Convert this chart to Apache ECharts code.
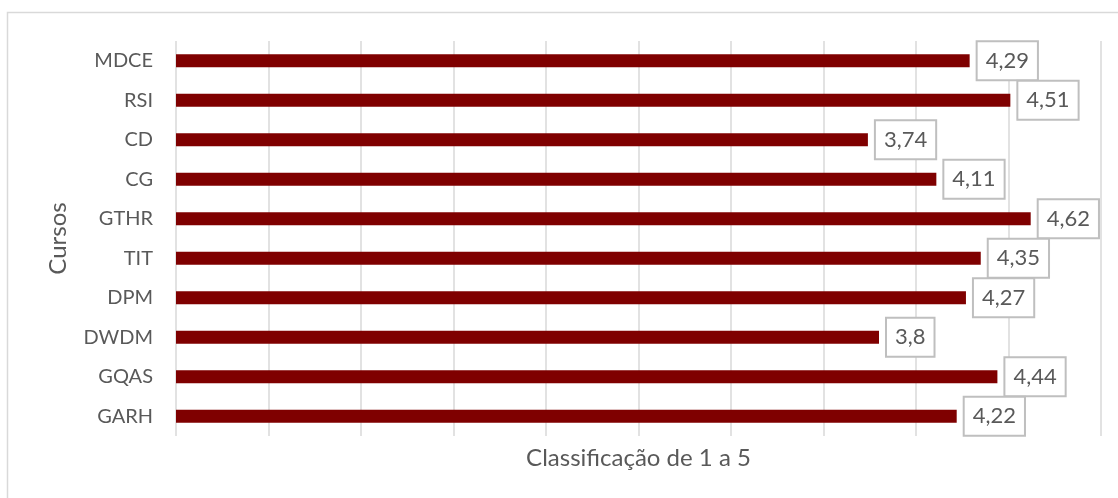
<!DOCTYPE html>
<html>
<head>
<meta charset="utf-8">
<script src="https://cdn.jsdelivr.net/npm/echarts@6/dist/echarts.min.js"></script>
<style>
  html, body { margin: 0; padding: 0; background: #fff; }
  #chart { width: 1118px; height: 498px; }
</style>
</head>
<body>
<div id="chart"></div>
<script>
// Course names, top to bottom
const cursos = ['MDCE', 'RSI', 'CD', 'CG', 'GTHR', 'TIT', 'DPM', 'DWDM', 'GQAS', 'GARH'];
// Average rating (scale 1 to 5)
const classificacao = [4.29, 4.51, 3.74, 4.11, 4.62, 4.35, 4.27, 3.8, 4.44, 4.22];

const FONT = 'Lato, "Open Sans", sans-serif';
const TEXT = '#595959';

const chart = echarts.init(document.getElementById('chart'));
chart.setOption({
  animation: false,
  backgroundColor: '#ffffff',
  graphic: [{
    type: 'rect',
    shape: { x: 7.5, y: 12.5, width: 1200, height: 600 },
    style: { fill: 'none', stroke: '#d9d9d9', lineWidth: 1.5 },
    silent: true
  }],
  grid: { left: 176, right: 17, top: 41, bottom: 62 },
  xAxis: {
    type: 'value',
    min: 0, max: 5, interval: 0.5,
    axisLabel: { show: false },
    axisLine: { show: false },
    axisTick: { show: false },
    splitLine: { show: true, lineStyle: { color: '#d9d9d9', width: 1.5 } },
    name: 'Classificação de 1 a 5',
    nameLocation: 'middle',
    nameGap: 10,
    nameTextStyle: { fontFamily: FONT, fontSize: 24, color: TEXT, verticalAlign: 'top' }
  },
  yAxis: {
    type: 'category',
    data: cursos,
    inverse: true,
    axisLine: { show: false },
    axisTick: { show: false },
    axisLabel: { fontFamily: FONT, fontSize: 20, color: TEXT, margin: 23 },
    name: 'Cursos',
    nameLocation: 'middle',
    nameRotate: 90,
    nameGap: 106,
    nameTextStyle: { fontFamily: FONT, fontSize: 24, color: TEXT }
  },
  series: [{
    type: 'bar',
    data: classificacao,
    barWidth: 13,
    itemStyle: { color: '#7f0000' },
    label: {
      show: true,
      position: 'right',
      distance: 8,
      formatter: p => String(p.value).replace('.', ','),
      fontFamily: FONT,
      fontSize: 22,
      lineHeight: 21,
      color: TEXT,
      backgroundColor: '#ffffff',
      borderColor: '#bfbfbf',
      borderWidth: 2,
      padding: [8, 8]
    }
  }]
});
</script>
</body>
</html>
